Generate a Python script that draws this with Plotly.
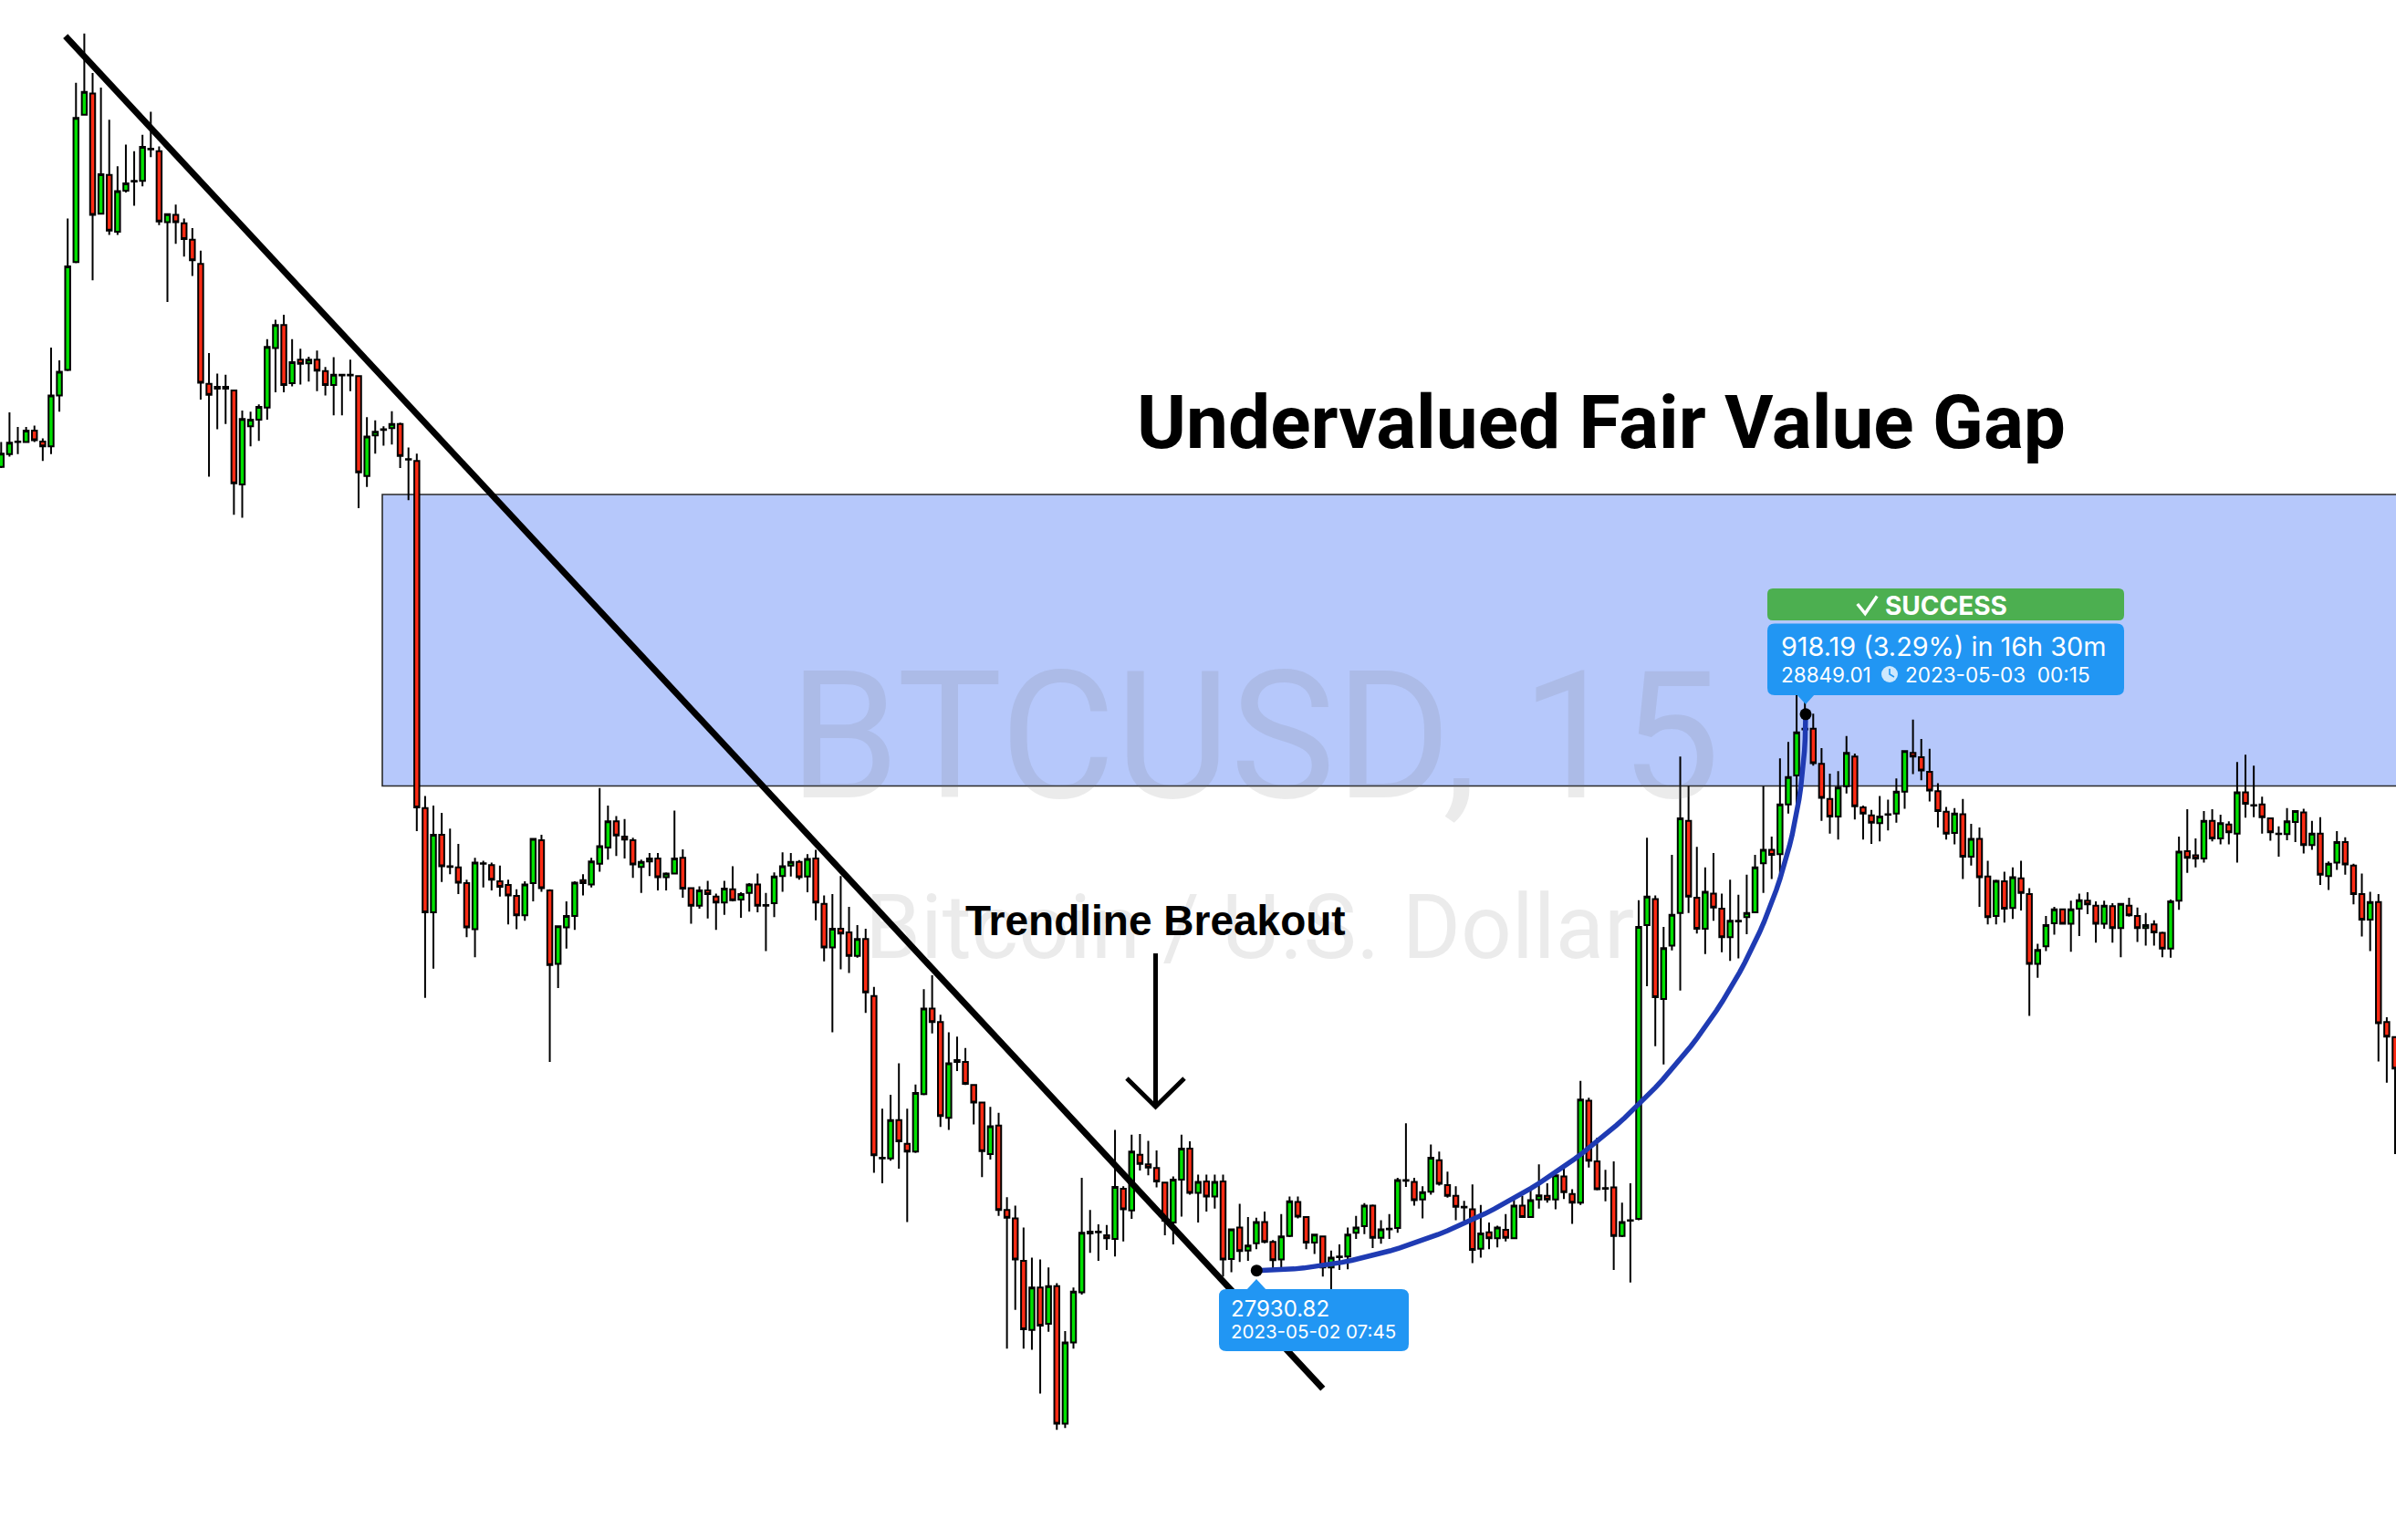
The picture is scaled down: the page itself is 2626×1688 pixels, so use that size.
import pandas as pd
import plotly.graph_objects as go

W, H = 2626, 1688

# ---------------- data (BTCUSD, 15 min) ----------------
start_time = "2023-04-30 18:00"
bar_minutes = 15

opens = [29257, 29278, 29298, 29298, 29317, 29299, 29291, 29375, 29417, 29595,
         29838, 29873, 29675, 29739, 29645, 29713, 29728, 29729, 29782, 29778,
         29661, 29673, 29659, 29632, 29592, 29394, 29386, 29389, 29383, 29228,
         29324, 29335, 29355, 29453, 29491, 29395, 29434, 29428, 29434, 29415,
         29392, 29409, 29408, 29407, 29242, 29309, 29318, 29321, 29328, 29270,
         29267, 28694, 28522, 28650, 28598, 28596, 28570, 28494, 28603, 28600,
         28573, 28567, 28549, 28517, 28570, 28641, 28558, 28437, 28497, 28516,
         28575, 28568, 28602, 28629, 28672, 28647, 28641, 28597, 28606, 28611,
         28580, 28586, 28612, 28562, 28533, 28558, 28548, 28538, 28560, 28543,
         28554, 28568, 28534, 28537, 28582, 28599, 28605, 28581, 28611, 28536,
         28464, 28495, 28489, 28450, 28478, 28384, 28116, 28116, 28179, 28140,
         28127, 28222, 28363, 28341, 28183, 28275, 28275, 28237, 28208, 28123,
         28170, 28031, 28017, 27947, 27833, 27903, 27843, 27905, 27678, 27812,
         27895, 27992, 27995, 27989, 27983, 28066, 28030, 28122, 28106, 28100,
         28076, 28010, 28081, 28132, 28059, 28078, 28053, 28078, 27950, 28002,
         27964, 27976, 28011, 27978, 27949, 27988, 28044, 28019, 27977, 27987,
         27936, 27953, 27954, 27993, 28004, 28038, 27985, 27999, 28001, 28079,
         28077, 28048, 28061, 28113, 28072, 28054, 28035, 28032, 27967, 27994,
         27984, 27998, 27984, 28038, 28019, 28048, 28054, 28048, 28086, 28057,
         28043, 28211, 28111, 28067, 28068, 27988, 28014, 28016, 28501, 28544,
         28379, 28467, 28521, 28673, 28546, 28495, 28553, 28528, 28481, 28508,
         28514, 28522, 28603, 28625, 28618, 28700, 28748, 28825, 28825, 28767,
         28709, 28680, 28730, 28779, 28695, 28682, 28669, 28683, 28685, 28721,
         28785, 28778, 28754, 28722, 28688, 28653, 28684, 28614, 28643, 28581,
         28516, 28573, 28529, 28578, 28552, 28437, 28466, 28504, 28527, 28503,
         28528, 28541, 28533, 28503, 28532, 28496, 28533, 28516, 28496, 28502,
         28488, 28462, 28541, 28623, 28616, 28611, 28673, 28644, 28667, 28652,
         28720, 28699, 28700, 28677, 28652, 28651, 28671, 28687, 28633, 28652,
         28582, 28604, 28638, 28599, 28552, 28510, 28539, 28341, 28316]

highs = [29298, 29347, 29323, 29323, 29325, 29304, 29454, 29433, 29667, 29891,
         29972, 29907, 29883, 29830, 29753, 29789, 29778, 29805, 29843, 29786,
         29674, 29690, 29667, 29651, 29614, 29445, 29411, 29409, 29383, 29350,
         29348, 29360, 29468, 29500, 29508, 29468, 29452, 29439, 29449, 29422,
         29438, 29410, 29434, 29407, 29339, 29334, 29324, 29349, 29330, 29289,
         29279, 28714, 28698, 28686, 28660, 28635, 28576, 28612, 28607, 28604,
         28599, 28576, 28560, 28573, 28643, 28650, 28560, 28500, 28540, 28573,
         28585, 28612, 28727, 28698, 28681, 28676, 28645, 28609, 28620, 28620,
         28588, 28690, 28626, 28563, 28565, 28574, 28553, 28574, 28598, 28555,
         28570, 28586, 28554, 28588, 28621, 28620, 28608, 28618, 28625, 28550,
         28552, 28582, 28531, 28501, 28495, 28399, 28198, 28221, 28273, 28198,
         28238, 28395, 28418, 28353, 28324, 28317, 28298, 28237, 28208, 28201,
         28191, 28052, 28038, 28002, 27952, 27949, 27936, 27910, 27831, 27903,
         28084, 28031, 28007, 28006, 28163, 28070, 28155, 28156, 28145, 28129,
         28076, 28086, 28155, 28144, 28089, 28089, 28089, 28089, 28000, 28041,
         28019, 28018, 28028, 27981, 28024, 28053, 28053, 28019, 27991, 27987,
         27964, 27974, 28002, 28021, 28042, 28040, 28014, 28024, 28084, 28174,
         28084, 28070, 28139, 28127, 28094, 28070, 28046, 28073, 28039, 28010,
         28005, 28024, 28049, 28054, 28064, 28106, 28075, 28092, 28102, 28065,
         28244, 28216, 28150, 28097, 28111, 28043, 28075, 28542, 28645, 28550,
         28498, 28617, 28779, 28731, 28630, 28596, 28620, 28553, 28576, 28551,
         28584, 28617, 28730, 28647, 28776, 28803, 28901, 28883, 28850, 28793,
         28751, 28755, 28813, 28784, 28698, 28691, 28714, 28708, 28743, 28789,
         28840, 28808, 28792, 28735, 28696, 28694, 28709, 28668, 28662, 28607,
         28576, 28589, 28596, 28607, 28562, 28470, 28516, 28531, 28527, 28541,
         28553, 28555, 28540, 28541, 28537, 28537, 28546, 28530, 28521, 28509,
         28490, 28543, 28647, 28692, 28644, 28689, 28692, 28683, 28672, 28770,
         28782, 28764, 28713, 28677, 28664, 28694, 28690, 28693, 28673, 28679,
         28606, 28656, 28646, 28602, 28586, 28556, 28552, 28349, 28316]

lows = [29255, 29274, 29278, 29297, 29298, 29267, 29278, 29348, 29415, 29593,
        29837, 29565, 29674, 29640, 29640, 29710, 29688, 29720, 29768, 29656,
        29529, 29625, 29604, 29572, 29368, 29241, 29319, 29328, 29178, 29173,
        29291, 29300, 29335, 29380, 29380, 29390, 29393, 29398, 29382, 29375,
        29342, 29342, 29382, 29189, 29224, 29279, 29292, 29294, 29255, 29202,
        28656, 28381, 28429, 28572, 28585, 28552, 28481, 28448, 28563, 28558,
        28548, 28502, 28494, 28508, 28540, 28556, 28275, 28397, 28462, 28493,
        28550, 28563, 28589, 28609, 28615, 28611, 28579, 28554, 28582, 28558,
        28558, 28585, 28546, 28503, 28528, 28512, 28493, 28518, 28540, 28513,
        28523, 28522, 28458, 28514, 28556, 28581, 28576, 28555, 28509, 28441,
        28324, 28428, 28422, 28447, 28356, 28092, 28075, 28112, 28099, 28011,
        28125, 28220, 28322, 28168, 28163, 28260, 28237, 28172, 28085, 28114,
        28021, 27802, 27866, 27802, 27800, 27728, 27830, 27668, 27671, 27802,
        27891, 27960, 27947, 27965, 27954, 27979, 28016, 28096, 28088, 28068,
        27989, 27974, 28020, 28056, 28010, 28028, 28033, 27921, 27928, 27945,
        27947, 27966, 27976, 27933, 27932, 27986, 28017, 27966, 27958, 27921,
        27875, 27932, 27933, 27983, 27991, 27968, 27975, 27983, 27993, 28069,
        28038, 28017, 28056, 28071, 28051, 28014, 28013, 27943, 27952, 27966,
        27969, 27979, 27983, 28018, 28018, 28033, 28043, 28032, 28049, 28008,
        28039, 28101, 28063, 28045, 27932, 27986, 27911, 28014, 28400, 28301,
        28271, 28459, 28393, 28521, 28487, 28453, 28508, 28456, 28442, 28446,
        28486, 28521, 28554, 28577, 28584, 28685, 28693, 28784, 28764, 28673,
        28652, 28642, 28718, 28675, 28642, 28635, 28639, 28657, 28670, 28693,
        28750, 28740, 28705, 28662, 28642, 28634, 28577, 28599, 28531, 28502,
        28502, 28505, 28511, 28525, 28351, 28414, 28458, 28485, 28502, 28457,
        28483, 28519, 28472, 28495, 28472, 28448, 28515, 28473, 28467, 28467,
        28448, 28447, 28526, 28587, 28596, 28604, 28639, 28634, 28634, 28604,
        28678, 28679, 28652, 28640, 28614, 28641, 28638, 28619, 28625, 28567,
        28559, 28592, 28584, 28535, 28482, 28458, 28276, 28241, 28123]

closes = [29279, 29297, 29299, 29317, 29301, 29291, 29375, 29414, 29588, 29833,
          29876, 29673, 29740, 29647, 29712, 29725, 29729, 29785, 29781, 29662,
          29674, 29661, 29633, 29598, 29396, 29376, 29389, 29386, 29230, 29336,
          29335, 29356, 29455, 29491, 29392, 29430, 29427, 29434, 29416, 29392,
          29409, 29408, 29409, 29248, 29307, 29315, 29319, 29328, 29275, 29269,
          28695, 28522, 28650, 28598, 28597, 28571, 28497, 28604, 28602, 28576,
          28564, 28550, 28517, 28568, 28643, 28562, 28435, 28499, 28516, 28571,
          28570, 28606, 28631, 28672, 28649, 28642, 28601, 28605, 28611, 28580,
          28586, 28611, 28561, 28533, 28558, 28552, 28538, 28561, 28542, 28552,
          28568, 28533, 28533, 28581, 28598, 28605, 28580, 28610, 28538, 28464,
          28495, 28487, 28450, 28478, 28390, 28121, 28117, 28179, 28144, 28127,
          28224, 28363, 28341, 28186, 28273, 28278, 28239, 28208, 28128, 28169,
          28031, 28018, 27949, 27834, 27903, 27840, 27905, 27678, 27812, 27896,
          27993, 27995, 27994, 27984, 28069, 28032, 28127, 28107, 28101, 28078,
          28013, 28081, 28132, 28059, 28077, 28053, 28077, 27949, 27999, 27963,
          27972, 28011, 27978, 27948, 27987, 28045, 28020, 27977, 27990, 27936,
          27952, 27954, 27990, 28002, 28038, 27985, 27999, 28000, 28080, 28080,
          28047, 28060, 28117, 28074, 28054, 28036, 28036, 27965, 27992, 27984,
          28002, 27985, 28038, 28019, 28047, 28055, 28048, 28088, 28060, 28043,
          28213, 28112, 28065, 28066, 27988, 28011, 28013, 28498, 28548, 28382,
          28463, 28518, 28677, 28548, 28495, 28556, 28530, 28481, 28508, 28507,
          28521, 28596, 28625, 28617, 28700, 28745, 28819, 28824, 28768, 28711,
          28680, 28728, 28785, 28697, 28685, 28670, 28680, 28684, 28721, 28788,
          28779, 28756, 28723, 28689, 28652, 28685, 28614, 28643, 28580, 28514,
          28574, 28528, 28580, 28554, 28437, 28460, 28501, 28527, 28503, 28527,
          28542, 28535, 28503, 28533, 28496, 28536, 28517, 28496, 28501, 28489,
          28462, 28540, 28622, 28612, 28611, 28673, 28644, 28669, 28654, 28720,
          28701, 28698, 28679, 28654, 28651, 28672, 28689, 28633, 28652, 28584,
          28602, 28638, 28601, 28552, 28510, 28539, 28339, 28317, 28264]

# drawings (anchored in bar index / price)
fvg_top = 29211.5
fvg_bottom = 28730.5
fvg_start_bar = 45.85

trend_start = (7.73, 29968.0)
trend_end = (159.0, 27736.0)

low_point = (151.04, 27930.82)
high_point = (217.09, 28849.01)
# curve drawing: cubic Bezier control points (bar index, price)
curve_ctrl = [low_point, (180.98, 27930.82), (217.09, 28296.2), high_point]

# ---------------- helpers ----------------
t0 = pd.Timestamp(start_time)
step = pd.Timedelta(minutes=bar_minutes)


def bar_time(i):
    return t0 + step * i


times = [bar_time(i) for i in range(len(opens))]

x_view = (-0.1427, 288.11)
y_view = (27486.2, 30027.5)


def px(X):
    return X / W


def py(Y):
    return 1 - Y / H


def rounded_box(x0, y0, x1, y1, r):
    rx, ry = r / W, r / H
    X0, X1 = px(x0), px(x1)
    Y0, Y1 = py(y0), py(y1)
    return (f"M {X0+rx},{Y0} L {X1-rx},{Y0} Q {X1},{Y0} {X1},{Y0-ry} "
            f"L {X1},{Y1+ry} Q {X1},{Y1} {X1-rx},{Y1} L {X0+rx},{Y1} "
            f"Q {X0},{Y1} {X0},{Y1+ry} L {X0},{Y0-ry} Q {X0},{Y0} {X0+rx},{Y0} Z")


def poly(points, close=True):
    s = "M " + " L ".join(f"{px(a)},{py(b)}" for a, b in points)
    return s + (" Z" if close else "")


def bezier(ctrl, n=80):
    (x0, y0), (x1, y1), (x2, y2), (x3, y3) = ctrl
    xs, ys = [], []
    for k in range(n + 1):
        t = k / n
        a, b, c, d = (1 - t) ** 3, 3 * t * (1 - t) ** 2, 3 * t * t * (1 - t), t ** 3
        xs.append(a * x0 + b * x1 + c * x2 + d * x3)
        ys.append(a * y0 + b * y1 + c * y2 + d * y3)
    return xs, ys


fig = go.Figure()

# watermark (under candles)
fig.add_trace(go.Scatter(
    x=[bar_time(150.79)], y=[28784.0], mode="text", text=["BTCUSD, 15"],
    textposition="middle center",
    textfont=dict(family="Roboto", size=194, color="rgba(110,110,110,0.14)"),
    hoverinfo="skip", showlegend=False))
fig.add_trace(go.Scatter(
    x=[bar_time(150.19)], y=[28484.0], mode="text", text=["Bitcoin / U.S. Dollar"],
    textposition="middle center",
    textfont=dict(family="Roboto", size=98, color="rgba(110,110,110,0.14)"),
    hoverinfo="skip", showlegend=False))

# curved path (under candles)
cx, cy = bezier(curve_ctrl)
fig.add_trace(go.Scatter(
    x=[bar_time(b) for b in cx], y=cy, mode="lines",
    line=dict(color="#1f3bb3", width=5.5),
    hoverinfo="skip", showlegend=False))

fig.add_trace(go.Candlestick(
    x=times, open=opens, high=highs, low=lows, close=closes,
    increasing=dict(fillcolor="#00e000", line=dict(color="black", width=2)),
    decreasing=dict(fillcolor="#ff2b14", line=dict(color="black", width=2)),
    whiskerwidth=0, hoverinfo="skip", showlegend=False))

# anchor dots
fig.add_trace(go.Scatter(
    x=[bar_time(low_point[0]), bar_time(high_point[0])],
    y=[low_point[1], high_point[1]], mode="markers",
    marker=dict(color="black", size=13), hoverinfo="skip", showlegend=False))

shapes = []
# fair value gap zone
shapes.append(dict(type="rect", xref="x", yref="y",
                   x0=bar_time(fvg_start_bar), x1=bar_time(400),
                   y0=fvg_bottom, y1=fvg_top,
                   fillcolor="#b6c8fb", line=dict(color="#2a2a2a", width=1.6),
                   layer="below"))
# trendline
shapes.append(dict(type="line", xref="x", yref="y",
                   x0=bar_time(trend_start[0]), y0=trend_start[1],
                   x1=bar_time(trend_end[0]), y1=trend_end[1],
                   line=dict(color="black", width=7)))
# breakout arrow
shapes.append(dict(type="path", xref="paper", yref="paper",
                   path=poly([(1266.5, 1045), (1266.5, 1211)], close=False),
                   line=dict(color="black", width=5)))
shapes.append(dict(type="path", xref="paper", yref="paper",
                   path=poly([(1235, 1182), (1266.5, 1213), (1298, 1182)], close=False),
                   line=dict(color="black", width=5)))

BLUE = "#2196f3"
GREEN = "#4caf50"
# low label
shapes.append(dict(type="path", xref="paper", yref="paper",
                   path=rounded_box(1336, 1413, 1544, 1481, 8),
                   fillcolor=BLUE, line=dict(width=0)))
shapes.append(dict(type="path", xref="paper", yref="paper",
                   path=poly([(1366, 1414), (1377, 1402), (1388, 1414)]),
                   fillcolor=BLUE, line=dict(width=0)))
# success label
shapes.append(dict(type="path", xref="paper", yref="paper",
                   path=rounded_box(1937, 645, 2328, 680, 6),
                   fillcolor=GREEN, line=dict(width=0)))
shapes.append(dict(type="path", xref="paper", yref="paper",
                   path=poly([(2035.7, 662), (2044.2, 672.5), (2057.2, 653.5)], close=False),
                   line=dict(color="white", width=3.5)))
# info label
shapes.append(dict(type="path", xref="paper", yref="paper",
                   path=rounded_box(1937, 683.5, 2328, 762, 8),
                   fillcolor=BLUE, line=dict(width=0)))
shapes.append(dict(type="path", xref="paper", yref="paper",
                   path=poly([(1969, 761), (1979, 772), (1989, 761)]),
                   fillcolor=BLUE, line=dict(width=0)))
# clock icon
shapes.append(dict(type="circle", xref="paper", yref="paper",
                   x0=px(2062), x1=px(2080), y0=py(748), y1=py(730),
                   fillcolor="rgba(255,255,255,0.78)", line=dict(width=0)))
shapes.append(dict(type="path", xref="paper", yref="paper",
                   path=poly([(2071, 733), (2071, 739), (2076, 742)], close=False),
                   line=dict(color=BLUE, width=1.6)))


def label(text, X, Y, size, family="Inter", color="white", bold=False, anchor="left"):
    return dict(text=f"<b>{text}</b>" if bold else text, x=px(X), y=py(Y),
                xref="paper", yref="paper", xanchor=anchor, yanchor="middle",
                showarrow=False, font=dict(family=family, size=size, color=color))


annotations = [
    label("Undervalued Fair Value Gap", 1755, 462.5, 82, family="Roboto",
          color="black", bold=True, anchor="center"),
    label("Trendline Breakout", 1266, 1009, 46, family="Liberation Sans",
          color="black", bold=True, anchor="center"),
    label("27930.82", 1347, 1434.3, 24),
    label("2023-05-02 07:45", 1347, 1459.7, 20.5),
    label("SUCCESS", 2064, 663.5, 28, bold=True),
    label("918.19 (3.29%) in 16h 30m", 1950, 708.3, 28.8),
    label("28849.01", 1950, 739.3, 22.5),
    label("2023-05-03\u00a0\u00a000:15", 2086, 739.3, 22.5),
]

fig.update_layout(
    width=W, height=H, autosize=False,
    margin=dict(l=0, r=0, t=0, b=0, pad=0),
    paper_bgcolor="white", plot_bgcolor="white",
    showlegend=False, hovermode=False,
    boxgap=0.40, boxgroupgap=0.0,
    xaxis=dict(type="date", range=[bar_time(x_view[0]), bar_time(x_view[1])],
               visible=False, showgrid=False, zeroline=False,
               rangeslider=dict(visible=False), fixedrange=True),
    yaxis=dict(range=list(y_view), visible=False, showgrid=False,
               zeroline=False, fixedrange=True),
    shapes=shapes, annotations=annotations,
)

fig.write_html("out.html", config={"displayModeBar": False, "staticPlot": True},
               post_script="document.body.style.margin='0';"
                           "document.body.style.overflow='hidden';"
                           "document.documentElement.style.overflow='hidden';")
